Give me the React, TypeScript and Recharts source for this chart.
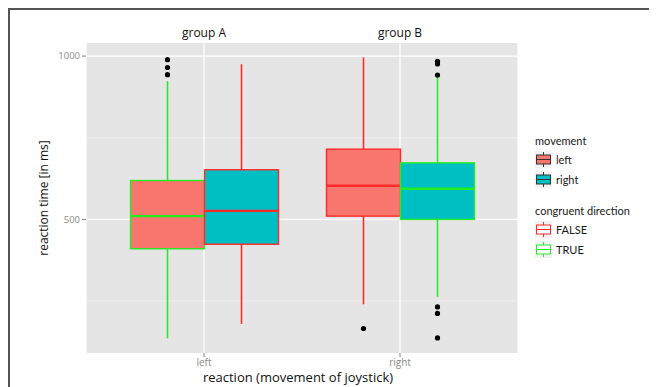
import React from 'react';
import {
  ComposedChart,
  Bar,
  XAxis,
  YAxis,
  CartesianGrid,
  ReferenceLine,
} from 'recharts';

const reactions = ['left', 'right'];
const groups = ['group A', 'group B'];
const movements = ['left', 'right'];
const congruence = ['FALSE', 'TRUE'];
const yTicks = [500, 1000];
const yMinorTicks = [250, 750];

// movement = left, one box per reaction
const leftLow = [136, 240];
const leftQ1 = [410, 510];
const leftMedian = [510, 603];
const leftQ3 = [619, 715];
const leftHigh = [923, 996];
const leftCongruent = [true, false];
const leftOutliers = [[943, 965, 989], [166]];

// movement = right
const rightLow = [180, 263];
const rightQ1 = [424, 500];
const rightMedian = [526, 594];
const rightQ3 = [652, 673];
const rightHigh = [975, 938];
const rightCongruent = [false, true];
const rightOutliers = [[], [137, 212, 232, 942, 976, 984]];

const FILL = { left: '#F8766D', right: '#00BFC4' };
const RED = '#FF2A2A';
const GREEN = '#22EE22';
const FONT = '"Open Sans", Lato, sans-serif';
const LEGEND_FONT = 'Lato, "Open Sans", sans-serif';

const data = reactions.map((r, i) => ({
  reaction: r,
  group: groups[i],
  leftBox: [leftQ1[i], leftQ3[i]],
  rightBox: [rightQ1[i], rightQ3[i]],
}));

const boxStats = {
  left: reactions.map((_, i) => ({
    low: leftLow[i],
    q1: leftQ1[i],
    median: leftMedian[i],
    q3: leftQ3[i],
    high: leftHigh[i],
    congruent: leftCongruent[i],
    outliers: leftOutliers[i],
  })),
  right: reactions.map((_, i) => ({
    low: rightLow[i],
    q1: rightQ1[i],
    median: rightMedian[i],
    q3: rightQ3[i],
    high: rightHigh[i],
    congruent: rightCongruent[i],
    outliers: rightOutliers[i],
  })),
};

const BoxShape = (props: any) => {
  const { x, y, width, height, box, fill } = props;
  const top = Math.min(y, y + height);
  const h = Math.abs(height);
  // pixels per ms, taken from the bar the axis scale drew (q1..q3)
  const ppu = h / (box.q3 - box.q1);
  const toY = (v: number) => top + (box.q3 - v) * ppu;
  const cx = x + width / 2;
  const stroke = box.congruent ? GREEN : RED;
  return (
    <g>
      <line x1={cx} x2={cx} y1={toY(box.high)} y2={top} stroke={stroke} strokeWidth={1.6} />
      <line x1={cx} x2={cx} y1={top + h} y2={toY(box.low)} stroke={stroke} strokeWidth={1.6} />
      <rect x={x} y={top} width={width} height={h} fill={fill} stroke={stroke} strokeWidth={1.4} />
      <line
        x1={x}
        x2={x + width}
        y1={toY(box.median)}
        y2={toY(box.median)}
        stroke={stroke}
        strokeWidth={2.4}
      />
      {box.outliers.map((v: number, k: number) => (
        <circle key={k} cx={cx} cy={toY(v)} r={2.6} fill='#000' />
      ))}
    </g>
  );
};

const Glyph = ({ x, y, fill, stroke }: any) => (
  <g>
    <rect x={x} y={y} width={17} height={17} fill='#f2f2f2' />
    <line x1={x + 8.5} x2={x + 8.5} y1={y + 1} y2={y + 16} stroke={stroke} strokeWidth={1} />
    <rect x={x + 1.5} y={y + 4} width={14} height={9} fill={fill} stroke={stroke} strokeWidth={1} />
    <line x1={x + 1.5} x2={x + 15.5} y1={y + 8.5} y2={y + 8.5} stroke={stroke} strokeWidth={1} />
  </g>
);

const LegendBox = () => (
  <svg
    width={125}
    height={140}
    style={{ position: 'absolute', left: 520, top: 118, fontFamily: LEGEND_FONT }}
  >
    <text x={5} y={17} fontSize={11} fill='#1a1a1a'>
      movement
    </text>
    {movements.map((m, i) => (
      <g key={m}>
        <Glyph x={5} y={23 + 20 * i} fill={(FILL as any)[m]} stroke='#333' />
        <text x={26} y={36 + 20 * i} fontSize={11} fill='#1a1a1a'>
          {m}
        </text>
      </g>
    ))}
    <text x={5} y={87} fontSize={11} fill='#1a1a1a'>
      congruent direction
    </text>
    {congruence.map((c, i) => (
      <g key={c}>
        <Glyph x={5} y={93 + 20 * i} fill='#ffffff' stroke={c === 'TRUE' ? GREEN : RED} />
        <text x={26} y={106 + 20 * i} fontSize={11} fill='#1a1a1a'>
          {c}
        </text>
      </g>
    ))}
  </svg>
);

export default function App() {
  return (
    <div
      style={{
        position: 'relative',
        width: 647,
        height: 377,
        borderTop: '2px solid #555',
        borderLeft: '2px solid #555',
        fontFamily: FONT,
      }}
    >
      <style>{'html,body{overflow:hidden}'}</style>
      <ComposedChart
        width={647}
        height={377}
        data={data}
        margin={{ top: 33, right: 139, bottom: 0, left: 0 }}
        barCategoryGap='12.5%'
        barGap={0}
      >
        <CartesianGrid
          fill='#e5e5e5'
          vertical={false}
          horizontalValues={yMinorTicks}
          stroke='#f2f2f2'
          strokeWidth={0.6}
        />
        <CartesianGrid horizontalValues={yTicks} stroke='#ffffff' strokeWidth={1.2} />
        <XAxis
          dataKey='reaction'
          padding={{ left: 20, right: 20 }}
          axisLine={false}
          tickLine={{ stroke: '#7f7f7f' }}
          tickSize={4}
          tickMargin={2}
          tick={{ fill: '#8a8a8a', fontSize: 10 }}
          height={34}
          label={{
            content: ({ viewBox }: any) => (
              <text
                x={viewBox.x + viewBox.width / 2 - 4}
                y={viewBox.y + viewBox.height - 5}
                textAnchor='middle'
                fontSize={13}
                fill='#111'
              >
                reaction (movement of joystick)
              </text>
            ),
          }}
        />
        <YAxis
          type='number'
          domain={[91, 1040]}
          ticks={yTicks}
          allowDataOverflow
          axisLine={false}
          tickLine={{ stroke: '#7f7f7f' }}
          tickSize={4}
          tickMargin={2}
          tick={{ fill: '#8a8a8a', fontSize: 9.5 }}
          width={76}
          label={{
            content: ({ viewBox }: any) => {
              const cx = 33;
              const cy = viewBox.y + viewBox.height / 2;
              return (
                <text
                  x={cx}
                  y={cy}
                  transform={`rotate(-90 ${cx} ${cy})`}
                  textAnchor='middle'
                  dominantBaseline='central'
                  fontSize={12}
                  fill='#111'
                >
                  reaction time [in ms]
                </text>
              );
            },
          }}
        />
        {reactions.map((r, i) => (
          <ReferenceLine
            key={r}
            x={r}
            stroke='none'
            label={{ value: groups[i], position: 'top', offset: 6, fontSize: 12, fill: '#111' }}
          />
        ))}
        <Bar
          dataKey='leftBox'
          isAnimationActive={false}
          shape={(p: any) => <BoxShape {...p} box={boxStats.left[p.index]} fill={FILL.left} />}
        />
        <Bar
          dataKey='rightBox'
          isAnimationActive={false}
          shape={(p: any) => <BoxShape {...p} box={boxStats.right[p.index]} fill={FILL.right} />}
        />
      </ComposedChart>
      <LegendBox />
    </div>
  );
}
